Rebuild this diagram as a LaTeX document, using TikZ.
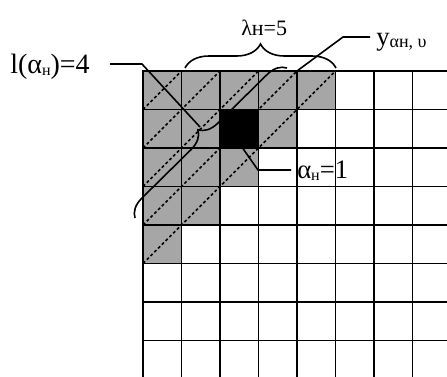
\documentclass[tikz,border=0pt]{standalone}
\usepackage{fontspec}
\setmainfont{Liberation Serif}
\usetikzlibrary{decorations.pathreplacing}
\definecolor{cellgray}{RGB}{166,166,166}
\begin{document}
\begin{tikzpicture}[x=0.75pt,y=0.75pt,
  gridline/.style={line width=1.4pt, line cap=rect},
  diagline/.style={line width=1.1pt, dash pattern=on 2.2pt off 1.8pt},
  pointer/.style={line width=1.2pt},
  bracestyle/.style={line width=1.2pt, decorate, decoration={brace, amplitude=#1}},
  lab/.style={inner sep=0pt, anchor=base west}]
\useasboundingbox (0,0) rectangle (447,-376);
\fill[white] (0,0) rectangle (447,-376);
\def\s{38.5}
% cells
\foreach \r in {0,...,4}{
  \pgfmathtruncatemacro\cmax{4-\r}
  \foreach \c in {0,...,\cmax}{
    \fill[cellgray] ({143+\s*\c},{-71-\s*\r}) rectangle ++(\s,-\s);
  }}
\fill[black] ({143+2*\s},{-71-\s}) rectangle ++(\s,-\s);
% dashed diagonals
\foreach \k in {1,...,5}
  \draw[diagline] (143,{-71-\s*\k}) -- ({143+\s*\k},-71);
% grid
\begin{scope}
\clip (0,0) rectangle (447,-376);
\foreach \i in {0,...,8}
  \draw[gridline] ({143+\s*\i},-71) -- ({143+\s*\i},-380);
\foreach \j in {0,...,8}
  \draw[gridline] (143,{-71-\s*\j}) -- (451,{-71-\s*\j});
\end{scope}
% braces
\draw[bracestyle=18pt] (185,-68) -- (336,-68);
\draw[bracestyle=14pt] (135,-218) -- (287,-68);
% labels
\node[lab] (lam) at (241,-35) {\fontsize{16.5}{16.5}\selectfont λн=5};
\node[lab] (llab) at (10,-73) {\fontsize{21}{21}\selectfont l(α\raisebox{-2pt}{\fontsize{12}{12}\selectfont н})=4};
\node[lab] (alab) at (297,-178) {\fontsize{20}{20}\selectfont α\raisebox{-2pt}{\fontsize{12}{12}\selectfont н}=1};
\node[lab] (ylab) at (376,-45) {\fontsize{20}{20}\selectfont y\raisebox{-2pt}{\fontsize{13.5}{13.5}\selectfont αн, υ}};
% pointer coordinates
\coordinate (l0) at (110,-64);
\coordinate (l1) at (142,-64);
\coordinate (ltip) at (200,-127);
\coordinate (y0) at (370,-37);
\coordinate (y1) at (343,-37);
\coordinate (y2) at ({143+4*\s},-71);
\coordinate (a0) at (237,-140);
\coordinate (a1) at (258,-170);
\coordinate (a2) at (291,-170);
\draw[pointer] (l0) -- (l1) -- (ltip);
\draw[pointer] (y0) -- (y1) -- (y2);
\draw[pointer] (a0) -- (a1) -- (a2);
\end{tikzpicture}
\end{document}
